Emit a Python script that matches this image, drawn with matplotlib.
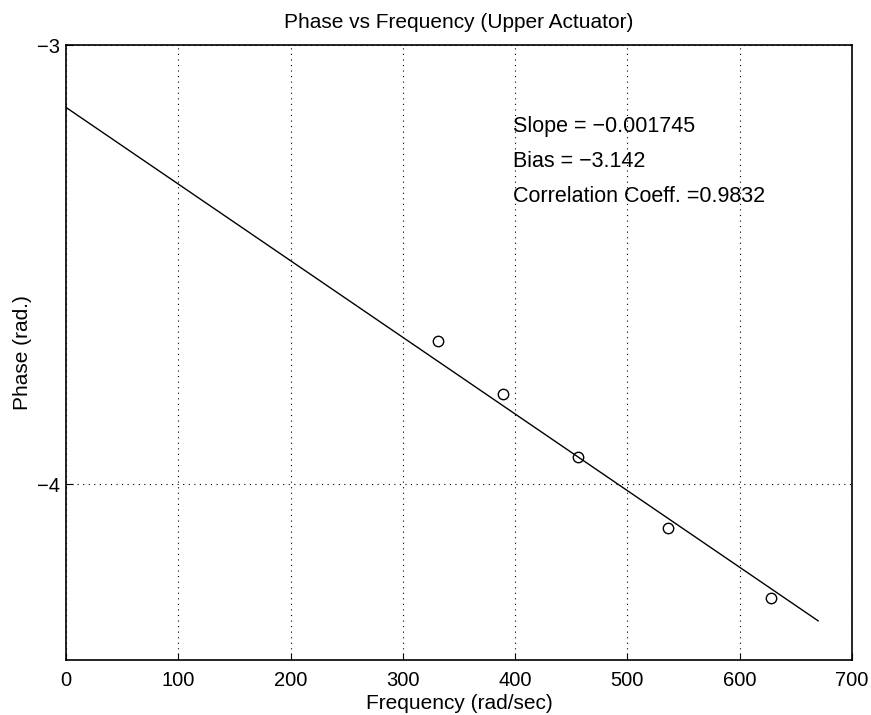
import matplotlib
matplotlib.use("Agg")
import matplotlib.pyplot as plt

# measured points (frequency rad/sec, phase rad)
freq = [331, 389, 456, 536, 628]
phase = [-3.674, -3.795, -3.937, -4.099, -4.260]

# least-squares line end points
fit_x = [0, 670]
fit_y = [-3.142, -4.311]

notes = ["Slope = \u22120.001745", "Bias = \u22123.142", "Correlation Coeff. =0.9832"]
note_y = [-3.185, -3.265, -3.345]

plt.rcParams['font.family'] = ['Liberation Sans', 'DejaVu Sans']

fig = plt.figure(figsize=(8.71, 7.15), dpi=100)
ax = fig.add_axes([0.0758, 0.077, 0.9022, 0.860])

ax.plot(fit_x, fit_y, color='black', linewidth=1.0)
ax.plot(freq, phase, 'o', markersize=7.5, markerfacecolor='none',
        markeredgecolor='black', markeredgewidth=1.0)

for txt, yy in zip(notes, note_y):
    ax.text(398, yy, txt, fontsize=15.5, va='center', ha='left')

ax.set_xlim(0, 700)
ax.set_ylim(-4.4, -3)
ax.set_xticks(range(0, 701, 100))
ax.set_yticks([-4, -3])
ax.set_yticklabels(['\u22124', '\u22123'])
ax.grid(True, linestyle=(0, (1, 4)), color='black', linewidth=0.8)
ax.tick_params(direction='in', labelsize=14.5, length=5, top=False, right=False)
ax.tick_params(axis='x', pad=8)
ax.tick_params(axis='y', pad=4)
for s in ax.spines.values():
    s.set_linewidth(1.2)

ax.set_title("Phase vs Frequency (Upper Actuator)", fontsize=15, pad=12)
ax.set_xlabel("Frequency (rad/sec)", fontsize=15, labelpad=3)
ax.set_ylabel("Phase (rad.)", fontsize=15, labelpad=4)

fig.savefig("out.png", dpi=100)
